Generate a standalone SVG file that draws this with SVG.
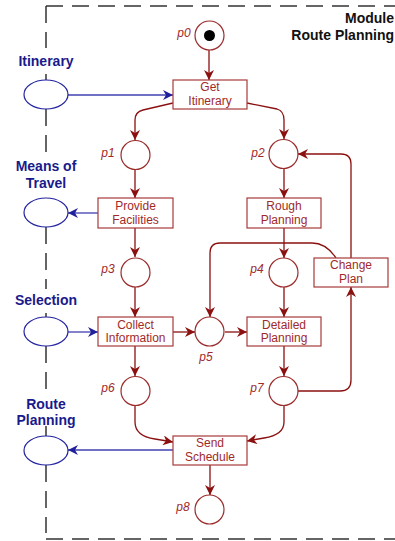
<svg xmlns="http://www.w3.org/2000/svg" width="395" height="541" viewBox="0 0 395 541">
  <style>
    .frame { fill: none; stroke: #333; stroke-width: 1.5; stroke-dasharray: 17 9; }
    .place { fill: #fff; stroke: #9b2c2c; stroke-width: 1.2; }
    .trans { fill: #fff; stroke: #a83a3a; stroke-width: 1.2; }
    .port { fill: #fff; stroke: #2222a0; stroke-width: 1.2; }
    .ttext { font-family: "Liberation Sans", Arial, sans-serif; font-size: 12px; fill: #a02a2a; text-anchor: middle; }
    .plabel { font-family: "Liberation Sans", Arial, sans-serif; font-size: 12px; font-style: italic; fill: #a02a2a; text-anchor: middle; }
    .portlabel { font-family: "Liberation Sans", Arial, sans-serif; font-size: 14px; font-weight: bold; fill: #1a1a8c; text-anchor: middle; }
    .title { font-family: "Liberation Sans", Arial, sans-serif; font-size: 14px; font-weight: bold; fill: #111; text-anchor: end; }
    .arc { fill: none; stroke: #8b1010; stroke-width: 1.3; }
    .barc { fill: none; stroke: #4040b0; stroke-width: 1.3; }
  </style>
  <defs>
    <marker id="ah" viewBox="0 0 10 10" refX="10" refY="5" markerWidth="10" markerHeight="10" markerUnits="userSpaceOnUse" orient="auto">
      <path d="M0,0 L10,5 L0,10 L3,5 z" fill="#8b1010"/>
    </marker>
    <marker id="bh" viewBox="0 0 10 10" refX="10" refY="5" markerWidth="10" markerHeight="10" markerUnits="userSpaceOnUse" orient="auto">
      <path d="M0,0 L10,5 L0,10 L3,5 z" fill="#20209a"/>
    </marker>
  </defs>

  <!-- module boundary -->
  <g id="frame">
    <line class="frame" x1="46" y1="6" x2="395" y2="6"/>
    <line class="frame" x1="46" y1="539" x2="395" y2="539"/>
    <line class="frame" x1="46" y1="6" x2="46" y2="48"/>
    <line class="frame" x1="46" y1="74" x2="46" y2="80"/>
    <line class="frame" x1="46" y1="109" x2="46" y2="155"/>
    <line class="frame" x1="46" y1="227" x2="46" y2="289"/>
    <line class="frame" x1="46" y1="313" x2="46" y2="317"/>
    <line class="frame" x1="46" y1="346" x2="46" y2="392"/>
    <line class="frame" x1="46" y1="426" x2="46" y2="436"/>
    <line class="frame" x1="46" y1="465" x2="46" y2="533"/>
  </g>

  <g id="title">
    <text class="title" x="394" y="23">Module</text>
    <text class="title" x="394" y="40">Route Planning</text>
  </g>

  <!-- connectors -->
  <g id="connectors">
    <path class="arc" d="M209,50 L209,80" marker-end="url(#ah)"/>
    <path class="barc" d="M68,95 L173,95" marker-end="url(#bh)"/>
    <path class="arc" d="M173,103 L143,110 Q135,112 135,120 L135,140" marker-end="url(#ah)"/>
    <path class="arc" d="M247,103 L277,109 Q284,111 284,120 L284,139" marker-end="url(#ah)"/>
    <path class="arc" d="M135,170 L135,198" marker-end="url(#ah)"/>
    <path class="barc" d="M98,213 L68,213" marker-end="url(#bh)"/>
    <path class="arc" d="M135,228 L135,257" marker-end="url(#ah)"/>
    <path class="arc" d="M135,287 L135,317" marker-end="url(#ah)"/>
    <path class="barc" d="M68,332 L98,332" marker-end="url(#bh)"/>
    <path class="arc" d="M173,332 L195,332" marker-end="url(#ah)"/>
    <path class="arc" d="M284,168 L284,198" marker-end="url(#ah)"/>
    <path class="arc" d="M284,228 L284,258" marker-end="url(#ah)"/>
    <path class="arc" d="M284,287 L284,317" marker-end="url(#ah)"/>
    <path class="arc" d="M336,258 Q326,243 312,243 L220,243 Q210,243 210,253 L210,317" marker-end="url(#ah)"/>
    <path class="arc" d="M225,332 L247,332" marker-end="url(#ah)"/>
    <path class="arc" d="M351,258 L351,164 Q351,154 341,154 L298,154" marker-end="url(#ah)"/>
    <path class="arc" d="M298,391 L340,391 Q351,391 351,380 L351,287" marker-end="url(#ah)"/>
    <path class="arc" d="M284,346 L284,376" marker-end="url(#ah)"/>
    <path class="arc" d="M135,346 L135,376" marker-end="url(#ah)"/>
    <path class="arc" d="M135,406 L135,422 Q135,436 155,439 L173,442" marker-end="url(#ah)"/>
    <path class="arc" d="M284,406 L284,422 Q284,435 264,438 L247,441" marker-end="url(#ah)"/>
    <path class="barc" d="M173,450 L68,450" marker-end="url(#bh)"/>
    <path class="arc" d="M210,465 L210,495" marker-end="url(#ah)"/>
  </g>

  <!-- ports -->
  <g id="port-itinerary">
    <text class="portlabel" x="46" y="66">Itinerary</text>
    <ellipse class="port" cx="46" cy="94.5" rx="22" ry="14.5"/>
  </g>
  <g id="port-means">
    <text class="portlabel" x="46" y="171">Means of</text>
    <text class="portlabel" x="46" y="188">Travel</text>
    <ellipse class="port" cx="46" cy="212.5" rx="22" ry="14.5"/>
  </g>
  <g id="port-selection">
    <text class="portlabel" x="46" y="305">Selection</text>
    <ellipse class="port" cx="46" cy="331.5" rx="22" ry="14.5"/>
  </g>
  <g id="port-route">
    <text class="portlabel" x="46" y="409">Route</text>
    <text class="portlabel" x="46" y="425">Planning</text>
    <ellipse class="port" cx="46" cy="450.5" rx="22" ry="14.5"/>
  </g>

  <!-- places -->
  <g id="p0">
    <circle class="place" cx="209.5" cy="35.5" r="14.5"/>
    <circle cx="209.5" cy="35.5" r="5.5" fill="#000"/>
    <text class="plabel" x="184" y="37">p0</text>
  </g>
  <g id="p1">
    <circle class="place" cx="135.5" cy="155" r="14.5"/>
    <text class="plabel" x="108" y="157">p1</text>
  </g>
  <g id="p2">
    <circle class="place" cx="283.5" cy="154" r="14.5"/>
    <text class="plabel" x="258" y="157">p2</text>
  </g>
  <g id="p3">
    <circle class="place" cx="135.5" cy="272.5" r="14.5"/>
    <text class="plabel" x="108" y="273">p3</text>
  </g>
  <g id="p4">
    <circle class="place" cx="283.5" cy="272.5" r="14.5"/>
    <text class="plabel" x="257" y="273">p4</text>
  </g>
  <g id="p5">
    <circle class="place" cx="209.5" cy="331.5" r="14.5"/>
    <text class="plabel" x="206" y="361">p5</text>
  </g>
  <g id="p6">
    <circle class="place" cx="135.5" cy="391" r="14.5"/>
    <text class="plabel" x="108" y="392">p6</text>
  </g>
  <g id="p7">
    <circle class="place" cx="283.5" cy="391" r="14.5"/>
    <text class="plabel" x="257" y="392">p7</text>
  </g>
  <g id="p8">
    <circle class="place" cx="209.5" cy="509.5" r="14.5"/>
    <text class="plabel" x="183" y="511">p8</text>
  </g>

  <!-- transitions -->
  <g id="t-get-itinerary">
    <rect class="trans" x="173" y="80" width="74" height="29"/>
    <text class="ttext" x="210" y="91">Get</text>
    <text class="ttext" x="210" y="105">Itinerary</text>
  </g>
  <g id="t-provide-facilities">
    <rect class="trans" x="98" y="198" width="75" height="30"/>
    <text class="ttext" x="135.5" y="210">Provide</text>
    <text class="ttext" x="135.5" y="224">Facilities</text>
  </g>
  <g id="t-collect-information">
    <rect class="trans" x="98" y="317" width="75" height="29"/>
    <text class="ttext" x="135.5" y="329">Collect</text>
    <text class="ttext" x="135.5" y="342">Information</text>
  </g>
  <g id="t-rough-planning">
    <rect class="trans" x="247" y="198" width="74" height="30"/>
    <text class="ttext" x="284" y="210">Rough</text>
    <text class="ttext" x="284" y="224">Planning</text>
  </g>
  <g id="t-change-plan">
    <rect class="trans" x="314" y="258" width="74" height="29"/>
    <text class="ttext" x="351" y="269">Change</text>
    <text class="ttext" x="351" y="283">Plan</text>
  </g>
  <g id="t-detailed-planning">
    <rect class="trans" x="247" y="317" width="74" height="29"/>
    <text class="ttext" x="284" y="329">Detailed</text>
    <text class="ttext" x="284" y="342">Planning</text>
  </g>
  <g id="t-send-schedule">
    <rect class="trans" x="173" y="436" width="74" height="29"/>
    <text class="ttext" x="210" y="447">Send</text>
    <text class="ttext" x="210" y="461">Schedule</text>
  </g>
</svg>
